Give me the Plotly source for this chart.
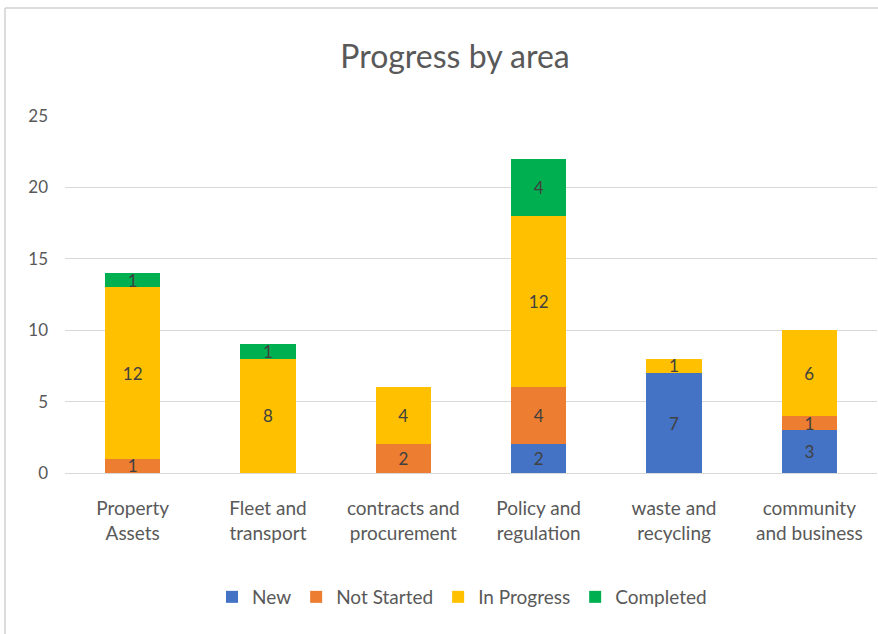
import plotly.graph_objects as go

categories = ["Property<br>Assets", "Fleet and<br>transport", "contracts and<br>procurement",
              "Policy and<br>regulation", "waste and<br>recycling", "community<br>and business"]
new = [0, 0, 0, 2, 7, 3]
not_started = [1, 0, 2, 4, 0, 1]
in_progress = [12, 8, 4, 12, 1, 6]
completed = [1, 1, 0, 4, 0, 0]

series = [
    ("New", new, "#4472C4"),
    ("Not Started", not_started, "#ED7D31"),
    ("In Progress", in_progress, "#FFC000"),
    ("Completed", completed, "#00B050"),
]

FONT = "Lato"
GREY = "#595959"

fig = go.Figure()
for name, vals, color in series:
    fig.add_trace(go.Bar(
        name=name, x=categories, y=vals,
        marker=dict(color=color, line=dict(width=0)),
        text=[str(v) if v else "" for v in vals],
        textposition="inside", insidetextanchor="middle", textangle=0,
        textfont=dict(family=FONT, size=17, color="#404040"),
        constraintext="none",
    ))

W, H = 878, 634
L, R, T, B = 65, 1, 116, 161

def px_x(p):
    return (p - L) / (W - L - R)

def px_y(p):
    return (H - B - p) / (H - T - B)

fig.update_layout(
    width=W, height=H,
    barmode="stack", bargap=0.59,
    margin=dict(l=L, r=R, t=T, b=B, autoexpand=False),
    paper_bgcolor="white", plot_bgcolor="white",
    font=dict(family=FONT, color=GREY),
    title=dict(text="Progress by area", xref="paper", x=px_x(455), xanchor="center",
               y=1 - 57 / H, yanchor="middle",
               font=dict(family=FONT, size=32, color=GREY)),
    xaxis=dict(showgrid=False, showline=False, ticks="", ticklabelstandoff=22,
               tickfont=dict(family=FONT, size=19, color=GREY)),
    yaxis=dict(range=[0, 25], dtick=5, showgrid=True, gridcolor="#d9d9d9",
               zeroline=True, zerolinecolor="#d9d9d9", zerolinewidth=1,
               ticks="", ticklabelstandoff=16,
               tickfont=dict(family=FONT, size=17, color=GREY)),
    legend=dict(orientation="h", x=px_x(462), xanchor="center",
                y=px_y(597), yanchor="middle",
                font=dict(family=FONT, size=19, color=GREY),
                itemwidth=30, traceorder="normal"),
    shapes=[
        dict(type="line", xref="paper", yref="paper",
             x0=px_x(5), x1=px_x(5), y0=px_y(8), y1=px_y(634),
             line=dict(color="#d0d0d0", width=1.5)),
        dict(type="line", xref="paper", yref="paper",
             x0=px_x(5), x1=px_x(878), y0=px_y(8), y1=px_y(8),
             line=dict(color="#d0d0d0", width=1.5)),
    ],
)

fig.write_html("out.html")
